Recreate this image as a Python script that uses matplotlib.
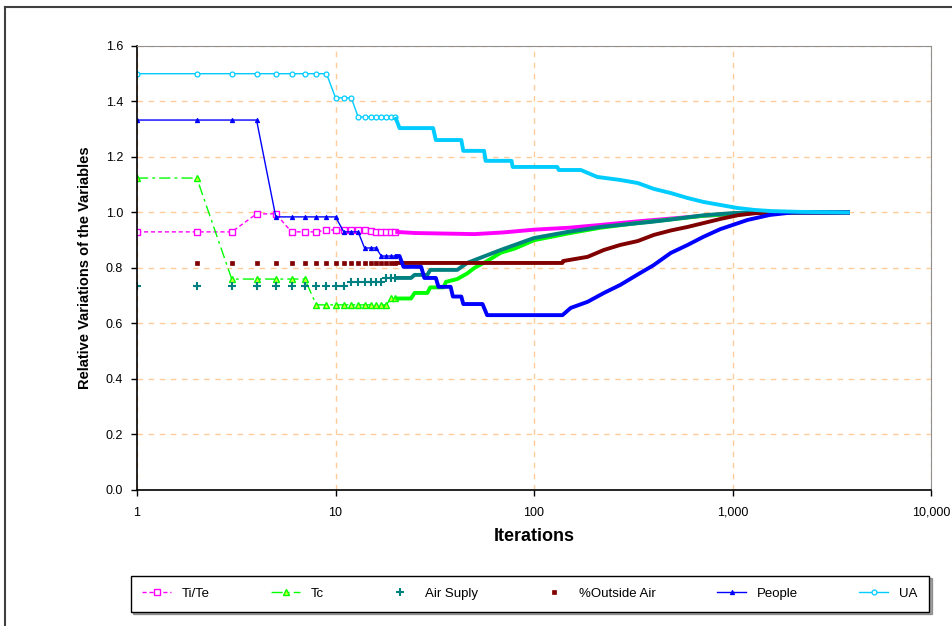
import numpy as np
import matplotlib
matplotlib.use("Agg")
import matplotlib.pyplot as plt
from matplotlib.lines import Line2D
from matplotlib.ticker import FixedLocator, FuncFormatter, NullLocator

plt.rcParams['font.family'] = ['Liberation Sans', 'DejaVu Sans']

series_names = ['Ti/Te', 'Tc', 'Air Suply', '%Outside Air', 'People', 'UA']

# first 20 iterations, one value per iteration (single markers visible)
early_iters = list(range(1, 21))
titi_early = [0.93, 0.93, 0.93, 0.995, 0.995, 0.93, 0.93, 0.93, 0.937, 0.937,
              0.937, 0.937, 0.937, 0.937, 0.932, 0.93, 0.93, 0.93, 0.93, 0.93]
tc_early = [1.124, 1.124, 0.76, 0.76, 0.76, 0.76, 0.76, 0.667, 0.667, 0.667,
            0.667, 0.667, 0.667, 0.667, 0.667, 0.667, 0.667, 0.667, 0.69, 0.69]
air_early = [0.735] * 11 + [0.75] * 6 + [0.764] * 3
oa_early = [np.nan] + [0.818] * 19
people_early = [1.333] * 4 + [0.984] * 6 + [0.93] * 3 + [0.872] * 3 + [0.843] * 4
ua_early = [1.5] * 9 + [1.413] * 3 + [1.344] * 8

# later iterations (dense part, read as break points)
titi_it = [20, 25, 50, 70, 100, 150, 216, 333, 488, 716, 1063, 1560, 3900]
titi_val = [0.93, 0.926, 0.922, 0.928, 0.938, 0.945, 0.955, 0.968, 0.978, 0.988,
            0.995, 1.0, 1.0]
tc_it = [20, 24, 25, 29, 30, 35, 36, 41, 46, 50, 58, 68, 80, 100, 150, 216, 333,
         488, 716, 1063, 1560, 3900]
tc_val = [0.69, 0.69, 0.71, 0.71, 0.73, 0.73, 0.75, 0.76, 0.78, 0.80, 0.825, 0.855,
          0.87, 0.9, 0.925, 0.945, 0.962, 0.975, 0.988, 0.996, 1.0, 1.0]
air_it = [20, 24, 25, 29, 30, 41, 46, 68, 100, 148, 216, 388, 470, 716, 1015, 1560, 3900]
air_val = [0.764, 0.764, 0.775, 0.775, 0.793, 0.793, 0.818, 0.865, 0.908, 0.93, 0.948,
           0.966, 0.973, 0.99, 0.998, 1.0, 1.0]
oa_it = [20, 139, 140, 186, 225, 272, 333, 401, 488, 595, 716, 873, 1063, 1280, 1560, 3900]
oa_val = [0.818, 0.818, 0.825, 0.84, 0.865, 0.883, 0.897, 0.919, 0.935, 0.948, 0.962,
          0.977, 0.99, 0.997, 1.0, 1.0]
people_it = [20, 21, 22, 27, 28, 32, 33, 38, 39, 43, 44, 55, 58, 139, 153, 186, 225,
             272, 330, 400, 488, 594, 712, 868, 1190, 1540, 2000, 3900]
people_val = [0.843, 0.843, 0.804, 0.804, 0.764, 0.764, 0.732, 0.732, 0.697, 0.697,
              0.67, 0.67, 0.63, 0.63, 0.656, 0.678, 0.71, 0.739, 0.775, 0.81, 0.854,
              0.883, 0.912, 0.94, 0.973, 0.991, 1.0, 1.0]
ua_it = [20, 21, 31, 32, 43, 44, 56, 57, 77, 78, 131, 133, 172, 208, 272, 333, 401,
         488, 594, 712, 868, 1060, 1290, 1560, 2200, 3900]
ua_val = [1.344, 1.304, 1.304, 1.261, 1.261, 1.222, 1.222, 1.186, 1.186, 1.164, 1.164,
          1.153, 1.153, 1.128, 1.117, 1.106, 1.085, 1.07, 1.052, 1.038, 1.027, 1.016,
          1.009, 1.005, 1.002, 1.0]

x_ticks = [1, 10, 100, 1000, 10000]
y_ticks = [0.0, 0.2, 0.4, 0.6, 0.8, 1.0, 1.2, 1.4, 1.6]

fig = plt.figure(figsize=(9.53, 6.26), dpi=100)
ax = fig.add_axes([0.1438, 0.2173, 0.8332, 0.7093])

styles = [
    dict(color='#FF00FF', ls=(0, (3, 2)), marker='s', ms=4, mfc='white', mew=1.0),
    dict(color='#00FF00', ls=(0, (8, 3, 2, 3)), marker='^', ms=4.5, mfc='#CCFF33', mew=1.0),
    dict(color='#008080', ls='none', marker='+', ms=6, mew=1.5),
    dict(color='#800000', ls='none', marker='s', ms=2.8, mew=0.5),
    dict(color='#0000FF', ls='-', marker='^', ms=3, mew=0.8),
    dict(color='#00CCFF', ls='-', marker='o', ms=3.5, mfc='white', mew=0.9),
]
early = [titi_early, tc_early, air_early, oa_early, people_early, ua_early]
late = [(titi_it, titi_val), (tc_it, tc_val), (air_it, air_val),
        (oa_it, oa_val), (people_it, people_val), (ua_it, ua_val)]

handles = []
for name, st, ev, (lx, lv) in zip(series_names, styles, early, late):
    h, = ax.plot(early_iters, ev, lw=1.0, label=name, **st)
    handles.append(h)
    ax.plot(lx, lv, color=st['color'], lw=2.8, solid_capstyle='butt')

ax.set_xscale('log')
ax.set_xlim(1, 10000)
ax.set_ylim(0, 1.6)
ax.xaxis.set_major_locator(FixedLocator(x_ticks))
ax.xaxis.set_minor_locator(NullLocator())
ax.xaxis.set_major_formatter(FuncFormatter(lambda v, _: f'{int(round(v)):,}'))
ax.set_yticks(y_ticks)
ax.yaxis.set_major_formatter(FuncFormatter(lambda v, _: f'{v:.1f}'))
ax.tick_params(axis='both', labelsize=9, length=4, width=1, color='black')
ax.tick_params(axis='x', pad=8)
ax.tick_params(axis='y', pad=6)

ax.grid(True, color='#FFCC99', ls=(0, (4, 4)), lw=1.0)
ax.set_axisbelow(True)
ax.spines['left'].set_color('black')
ax.spines['bottom'].set_color('black')
ax.spines['left'].set_linewidth(1.2)
ax.spines['bottom'].set_linewidth(1.2)
ax.spines['top'].set_color('#909090')
ax.spines['right'].set_color('#909090')

ax.set_xlabel('Iterations', fontsize=13, fontweight='bold', labelpad=7)
ax.set_ylabel('Relative Variations of the Variables', fontsize=10.5, fontweight='bold', labelpad=10)

leg = fig.legend(handles=handles, loc='lower left', ncol=6, mode='expand',
                 bbox_to_anchor=(0.137, 0.023, 0.838, 0.072), fontsize=9.5,
                 frameon=True, fancybox=False, shadow=True, handlelength=2.2,
                 borderaxespad=0, borderpad=0.9)
leg.get_frame().set_edgecolor('black')
leg.get_frame().set_linewidth(1.0)

# outer chart-area frame (cut off at right and bottom like the original)
fig.add_artist(Line2D([0.0055, 0.0055], [0.0, 0.989], transform=fig.transFigure,
                      color='#404040', lw=1.5))
fig.add_artist(Line2D([0.0055, 1.0], [0.989, 0.989], transform=fig.transFigure,
                      color='#404040', lw=1.5))

fig.savefig('out.png', dpi=100, facecolor='white')
